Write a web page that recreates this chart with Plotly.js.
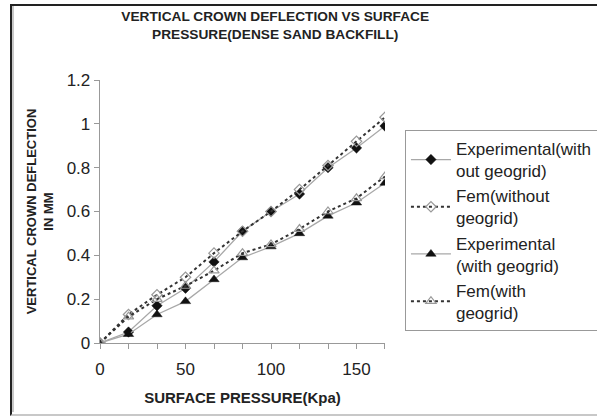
<!DOCTYPE html>
<html>
<head>
<meta charset="utf-8">
<script src="https://cdn.plot.ly/plotly-3.0.1.min.js"></script>
<style>
  html, body { margin: 0; padding: 0; background: #fff; }
  #wrap { position: relative; width: 597px; height: 416px; overflow: hidden; }
  #chart { position: absolute; left: 0; top: 0; width: 597px; height: 416px; }
  #frame { position: absolute; left: 10px; top: 4px; width: 600px; height: 408px;
           border-left: 2px solid #222; border-top: 2px solid #222; border-bottom: 2px solid #c8c8c8;
           pointer-events: none; }
  #frame2 { position: absolute; left: 12px; top: 6px; width: 2px; height: 406px; background: #c8c8c8; pointer-events: none; }
</style>
</head>
<body>
<div id="wrap">
  <div id="chart"></div>
  <div id="frame"></div>
  <div id="frame2"></div>
</div>
<script>
const pressure = [0, 16.67, 33.33, 50, 66.67, 83.33, 100, 116.67, 133.33, 150, 166.67];
const expWithout = [0, 0.05, 0.17, 0.25, 0.37, 0.51, 0.60, 0.68, 0.80, 0.89, 0.99];
const femWithout = [0, 0.13, 0.22, 0.30, 0.41, 0.51, 0.60, 0.70, 0.81, 0.92, 1.03];
const expWith    = [0, 0.04, 0.13, 0.19, 0.29, 0.39, 0.44, 0.50, 0.58, 0.64, 0.73];
const femWith    = [0, 0.12, 0.20, 0.26, 0.33, 0.41, 0.45, 0.52, 0.60, 0.66, 0.76];

const names = [
  'Experimental(with<br>out geogrid)',
  'Fem(without<br>geogrid)',
  'Experimental<br>(with geogrid)',
  'Fem(with<br>geogrid)'
];

const traces = [
  { x: pressure, y: expWithout, name: names[0], mode: 'lines+markers', type: 'scatter',
    line: { color: '#a8a8a8', width: 1.3 },
    marker: { symbol: 'diamond', size: 8, color: '#111', line: { color: '#111', width: 0.5 } } },
  { x: pressure, y: femWithout, name: names[1], mode: 'lines+markers', type: 'scatter',
    line: { color: '#333', width: 2, dash: 'dot' },
    marker: { symbol: 'diamond-open', size: 8, color: '#999', line: { color: '#999', width: 1.2 } } },
  { x: pressure, y: expWith, name: names[2], mode: 'lines+markers', type: 'scatter',
    line: { color: '#a8a8a8', width: 1.3 },
    marker: { symbol: 'triangle-up', size: 9, color: '#111', line: { color: '#111', width: 0.5 } } },
  { x: pressure, y: femWith, name: names[3], mode: 'lines+markers', type: 'scatter',
    line: { color: '#333', width: 2, dash: 'dot' },
    marker: { symbol: 'triangle-up-open', size: 9, color: '#999', line: { color: '#999', width: 1.2 } } }
];

const layout = {
  width: 597, height: 416,
  margin: { l: 100, r: 212, t: 80, b: 73, autoexpand: false },
  paper_bgcolor: '#fff', plot_bgcolor: '#fff',
  font: { family: 'Liberation Sans, Arial, sans-serif', color: '#222' },
  showlegend: true,
  hovermode: false,
  title: {
    text: '<b>VERTICAL CROWN DEFLECTION VS SURFACE<br>PRESSURE(DENSE SAND BACKFILL)</b>',
    font: { size: 13.7, color: '#222' },
    x: 0.461, xref: 'container', xanchor: 'center',
    y: 0.95, yref: 'container', yanchor: 'top'
  },
  xaxis: {
    range: [0, 166.67], tickmode: 'linear', tick0: 0, dtick: 50,
    ticks: 'outside', ticklen: 5, tickcolor: '#999', tickwidth: 1,
    minor: { tickmode: 'linear', tick0: 0, dtick: 50 / 3, ticks: 'outside', ticklen: 5, tickcolor: '#999', tickwidth: 1 },
    showline: true, linecolor: '#999', linewidth: 1.3,
    showgrid: false, zeroline: false,
    ticklabelstandoff: 5,
    tickfont: { size: 17, color: '#222' },
    title: { text: '<b>SURFACE PRESSURE(Kpa)</b>', font: { size: 15, color: '#222' }, standoff: 14 }
  },
  yaxis: {
    range: [0, 1.2], tickmode: 'array',
    tickvals: [0, 0.2, 0.4, 0.6, 0.8, 1, 1.2],
    ticktext: ['0', '0.2', '0.4', '0.6', '0.8', '1', '1.2'],
    ticks: 'outside', ticklen: 5, tickcolor: '#999', tickwidth: 1,
    showline: true, linecolor: '#999', linewidth: 1.3,
    showgrid: false, zeroline: false,
    tickfont: { size: 17, color: '#222' },
    title: { text: '<b>VERTICAL CROWN DEFLECTION<br>IN MM</b>', font: { size: 13, color: '#222' }, standoff: 10 }
  },
  legend: {
    x: 1.07, xanchor: 'left', y: 0.81, yanchor: 'top',
    bordercolor: '#999', borderwidth: 1, bgcolor: '#fff',
    font: { size: 17, color: '#222' },
    itemwidth: 40, tracegroupgap: 0,
    traceorder: 'normal'
  }
};

Plotly.newPlot('chart', traces, layout, { displayModeBar: false, staticPlot: true });
</script>
</body>
</html>
